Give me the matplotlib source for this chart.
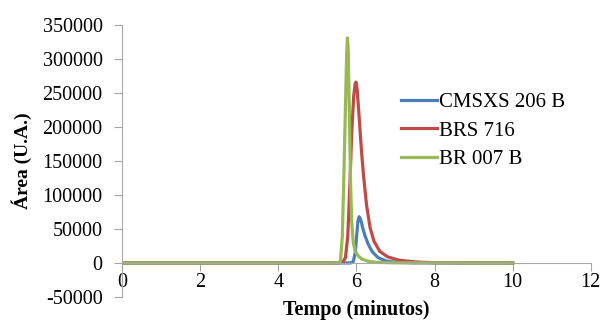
import matplotlib.pyplot as plt

plt.rcParams['font.family'] = ['Liberation Serif', 'DejaVu Serif']
plt.rcParams['axes.unicode_minus'] = False

# Cromatogramas (tempo em minutos, área em U.A.)
t_cmsxs = [0, 2, 4, 5.5, 5.85, 5.92, 5.97, 6.01, 6.04, 6.07, 6.11, 6.16, 6.22, 6.3, 6.4, 6.55, 6.75, 7.0, 7.5, 10]
a_cmsxs = [0, 0, 0, 0, 0, 2000, 15000, 42000, 62000, 68000, 64000, 52000, 40000, 28000, 17000, 8000, 3000, 1000, 200, 0]

t_brs = [0, 2, 4, 5.5, 5.65, 5.72, 5.78, 5.83, 5.88, 5.93, 5.97, 5.99, 6.02, 6.07, 6.13, 6.18, 6.26, 6.35, 6.45, 6.6, 6.8, 7.1, 7.5, 8, 10]
a_brs = [0, 0, 0, 0, 1000, 8000, 40000, 110000, 190000, 245000, 264000, 266000, 255000, 215000, 165000, 130000, 85000, 52000, 32000, 17000, 9000, 4000, 1500, 300, 0]

t_br007 = [0, 2, 4, 5.5, 5.59, 5.64, 5.68, 5.72, 5.75, 5.77, 5.79, 5.82, 5.85, 5.88, 5.92, 5.97, 6.05, 6.15, 6.3, 6.5, 7, 10]
a_br007 = [0, 0, 0, 0, 2000, 40000, 130000, 230000, 305000, 331000, 315000, 220000, 120000, 60000, 30000, 17000, 10000, 5500, 2500, 1000, 200, 0]

labels = ['CMSXS 206 B', 'BRS 716', 'BR 007 B']
colors = ['#4A7EBB', '#BE4B48', '#98B954']

fig = plt.figure(figsize=(6.01, 3.2), dpi=100)
ax = fig.add_axes([0.203, 0.072, 0.78, 0.85])

for t, a, lab, c in zip([t_cmsxs, t_brs, t_br007], [a_cmsxs, a_brs, a_br007], labels, colors):
    ax.plot(t, a, color=c, lw=2.3, label=lab, solid_joinstyle='round')

ax.set_xlim(0, 12)
ax.set_ylim(-50000, 350000)
ax.set_xticks(range(0, 13, 2))
ax.set_yticks(range(-50000, 350001, 50000))

ax.spines['top'].set_visible(False)
ax.spines['right'].set_visible(False)
ax.spines['bottom'].set_position(('data', 0))
for s in ['left', 'bottom']:
    ax.spines[s].set_color('#A6A6A6')
    ax.spines[s].set_linewidth(0.8)
ax.tick_params(axis='both', colors='#A6A6A6', labelcolor='black', labelsize=14.5,
               length=6, width=0.8)
ax.tick_params(axis='x', pad=1)
ax.tick_params(axis='y', pad=8)

ax.set_xlabel('Tempo (minutos)', fontsize=14.5, fontweight='bold')
ax.xaxis.set_label_coords(0.5, -0.01)
ax.set_ylabel('Área (U.A.)', fontsize=14, fontweight='bold')
ax.yaxis.set_label_coords(-0.192, 0.5)

ax.legend(loc='center left', bbox_to_anchor=(0.668, 0.591), bbox_transform=fig.transFigure,
          frameon=False, fontsize=15, borderpad=0, borderaxespad=0,
          handlelength=1.7, handletextpad=0.1, labelspacing=0.42)

fig.savefig('out.png', dpi=100)
